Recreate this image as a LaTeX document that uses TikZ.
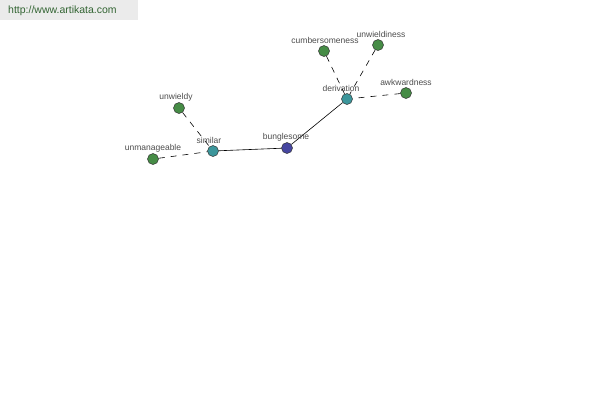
\documentclass[tikz,border=0pt]{standalone}
\usepackage{fontspec}
\setmainfont{Liberation Sans}
\begin{document}
\begin{tikzpicture}[x=1pt,y=-1pt,
  lbl/.style={font=\fontsize{8.5}{9}\selectfont, text=black!70, inner sep=0pt},
  dot/.style={circle, draw=black!80, line width=0.5pt, minimum size=11pt, inner sep=0pt},
  gdot/.style={dot, fill={rgb,255:red,70;green,140;blue,70}},
  tdot/.style={dot, fill={rgb,255:red,60;green,150;blue,155}},
  bdot/.style={dot, fill={rgb,255:red,70;green,70;blue,160}},
  dashedge/.style={draw=black, line width=0.6pt, dash pattern=on 6pt off 6pt},
  solidedge/.style={draw=black, line width=0.6pt}]
\useasboundingbox (0,0) rectangle (600,400);
\fill[black!8] (0,0) rectangle (138,20);
\node[anchor=west, inner sep=0pt, font=\fontsize{10.5}{11}\selectfont, text={rgb,255:red,50;green,100;blue,50}] (url) at (8,11) {http://www.artikata.com};

\node[bdot] (bung) at (287,148) {};
\node[tdot] (sim) at (213,151) {};
\node[tdot] (der) at (347,99) {};
\node[gdot] (unw) at (179,108) {};
\node[gdot] (unm) at (153,159) {};
\node[gdot] (cum) at (324,51) {};
\node[gdot] (unwi) at (378,45) {};
\node[gdot] (awk) at (406,93) {};

\draw[solidedge] (sim) -- (bung);
\draw[solidedge] (bung) -- (der);
\draw[dashedge] (unw) -- (sim);
\draw[dashedge] (unm) -- (sim);
\draw[dashedge] (cum) -- (der);
\draw[dashedge] (unwi) -- (der);
\draw[dashedge] (awk) -- (der);

\node[lbl] (lbung) at (286,137) {bunglesome};
\node[lbl] (lsim) at (209,140) {similar};
\node[lbl] (lder) at (341,88) {derivation};
\node[lbl] (lunw) at (176,97) {unwieldy};
\node[lbl] (lunm) at (153,148) {unmanageable};
\node[lbl] (lcum) at (325,40) {cumbersomeness};
\node[lbl] (lunwi) at (381,34) {unwieldiness};
\node[lbl] (lawk) at (406,82) {awkwardness};
\end{tikzpicture}
\end{document}
